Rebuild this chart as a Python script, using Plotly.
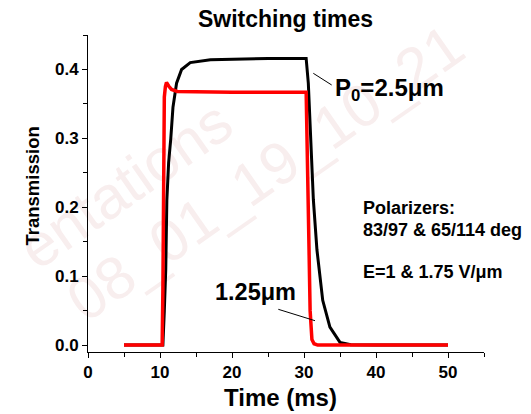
import plotly.graph_objects as go

# ---- data ----
black_t = [5, 10.4, 10.6, 10.8, 10.95, 11.2, 11.5, 11.8, 12.3, 13.0, 14.2, 17, 25, 30.3,
           30.6, 30.8, 31.3, 31.8, 32.6, 33.6, 35.0, 36.5, 40, 50]
black_v = [0, 0, 0.05, 0.11, 0.21, 0.265, 0.30, 0.345, 0.38, 0.40, 0.41, 0.414, 0.416, 0.416,
           0.38, 0.33, 0.211, 0.138, 0.065, 0.026, 0.004, 0.0005, 0, 0]

red_t = [5, 10.3, 10.4, 10.5, 10.6, 10.75, 10.9, 11.2, 11.6, 12.4, 20, 30.3,
         30.45, 30.6, 30.7, 30.85, 30.95, 31.1, 31.4, 31.9, 50]
red_v = [0, 0, 0.08, 0.27, 0.36, 0.375, 0.381, 0.376, 0.371, 0.368, 0.367, 0.367,
         0.30, 0.21, 0.138, 0.05, 0.022, 0.008, 0.002, 0, 0]

x_ticks = [0, 10, 20, 30, 40, 50]
y_ticks = [0.0, 0.1, 0.2, 0.3, 0.4]

W, H = 531, 414
ML, MR, MT, MB = 88, 47, 35, 62
PW, PH = W - ML - MR, H - MT - MB
FONT = "Arial, Liberation Sans, sans-serif"


def px(x):
    return (x - ML) / PW


def py(y):
    return (H - MB - y) / PH


fig = go.Figure()
fig.add_trace(go.Scatter(x=black_t, y=black_v, mode="lines",
                         line=dict(color="black", width=3), showlegend=False))
fig.add_trace(go.Scatter(x=red_t, y=red_v, mode="lines",
                         line=dict(color="#ff0000", width=3.5), showlegend=False))

axis_common = dict(showline=True, linecolor="black", linewidth=1, showgrid=False,
                   zeroline=False, ticks="outside", ticklen=5, tickwidth=1,
                   tickcolor="black",
                   tickfont=dict(family=FONT, size=17, color="black", weight="bold"))

fig.update_xaxes(range=[0, 55], tickvals=x_ticks, ticktext=[str(v) for v in x_ticks],
                 minor=dict(dtick=5, tick0=0, ticks="outside", ticklen=4,
                            tickcolor="black", tickwidth=1),
                 **axis_common)
fig.update_yaxes(range=[-0.01, 0.45], tickvals=y_ticks,
                 ticktext=["%.1f" % v for v in y_ticks],
                 minor=dict(dtick=0.05, tick0=0, ticks="outside", ticklen=4,
                            tickcolor="black", tickwidth=1),
                 **axis_common)

ann = []


def txt(text, x, y, size, xanchor="center", angle=0):
    ann.append(dict(text=text, x=px(x), y=py(y), xref="paper", yref="paper",
                    showarrow=False, xanchor=xanchor, yanchor="middle",
                    textangle=angle,
                    font=dict(family=FONT, size=size, color="black", weight="bold")))


txt("Switching times", 285.5, 18.5, 23)
txt("Transmission", 31.5, 186, 18.5, angle=-90)
txt("Time (ms)", 280, 397, 24)
txt("P<sub>0</sub>=2.5μm", 333, 89, 24, xanchor="left")
txt("1.25μm", 213, 292, 23.5, xanchor="left")
txt("Polarizers:", 361, 208, 18, xanchor="left")
txt("83/97 & 65/114 deg", 361, 230, 18, xanchor="left")
txt("E=1 & 1.75 V/μm", 361, 272, 18, xanchor="left")

shapes = [
    dict(type="line", xref="paper", yref="paper", x0=px(313.3), y0=py(73.3),
         x1=px(331.7), y1=py(85), line=dict(color="black", width=1)),
    dict(type="line", xref="paper", yref="paper", x0=px(278.3), y0=py(309.3),
         x1=px(315), y1=py(320.7), line=dict(color="black", width=1)),
]

# faint background watermark (visible part only)
WM = "#f8eeee"
for text, cx, cy in [("entations", 122, 180), ("08_01_19_10_21", 262, 168)]:
    dx, dy = 81.9, -57.4
    shapes.append(dict(type="line", xref="paper", yref="paper",
                       x0=px(cx - dx), y0=py(cy - dy), x1=px(cx + dx), y1=py(cy + dy),
                       line=dict(color="rgba(0,0,0,0)", width=0), layer="below",
                       label=dict(text=text, textangle=-35, textposition="middle",
                                  xanchor="center", yanchor="middle",
                                  font=dict(family=FONT, size=60, color=WM))))

fig.update_layout(width=W, height=H, margin=dict(l=ML, r=MR, t=MT, b=MB),
                  paper_bgcolor="white", plot_bgcolor="white",
                  annotations=ann, shapes=shapes, showlegend=False)

fig.write_html("out.html")
